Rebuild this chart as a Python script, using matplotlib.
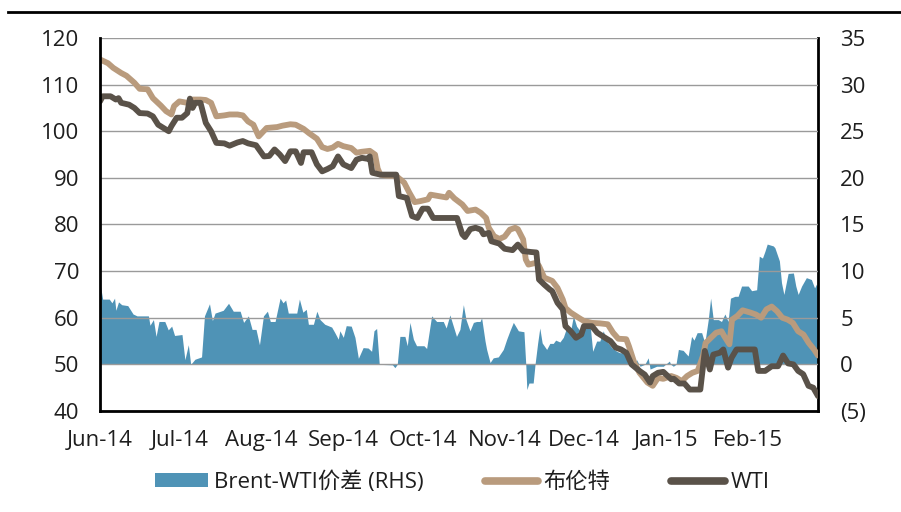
import matplotlib
matplotlib.use("Agg")
import matplotlib.pyplot as plt
import matplotlib.dates as mdates
from matplotlib.patches import Patch
from matplotlib.lines import Line2D
import pandas as pd

plt.rcParams['font.family'] = ['Open Sans', 'Noto Sans CJK SC', 'DejaVu Sans']

# x positions are days counted from 1 Jun 2014
start = pd.Timestamp('2014-06-01')

brent_days = [0, 3, 5, 8, 10, 13, 15, 18, 20, 23, 25, 27, 28, 30, 33, 35, 38, 40, 42, 44,
              47, 49, 52, 54, 56, 58, 60, 63, 67, 69, 72, 74, 77, 79, 82, 84, 86, 88, 90, 92,
              95, 97, 99, 102, 104, 105, 106, 108, 112, 115, 117, 119, 121, 124, 125, 128, 131, 132, 134, 137,
              139, 142, 144, 146, 147, 149, 151, 153, 155, 157, 158, 160, 161, 162, 165, 166, 168, 171, 173, 175,
              176, 178, 181, 183, 186, 189, 192, 194, 196, 199, 200, 202, 204, 207, 209, 211, 213, 216, 218, 220,
              222, 224, 226, 228, 229, 231, 233, 235, 236, 238, 239, 241, 243, 246, 248, 250, 252, 254, 256, 258,
              260, 262, 264, 266, 268, 270, 271.5]
brent = [115.4, 114.6, 113.6, 112.5, 111.9, 110.4, 109.1, 109.0, 107.1, 105.5, 104.3, 103.6, 105.4, 106.4, 106.1, 106.8, 106.8, 106.7, 106.1, 103.2,
         103.4, 103.6, 103.6, 103.4, 102.1, 101.4, 98.9, 100.7, 100.9, 101.2, 101.5, 101.4, 100.5, 99.6, 98.4, 96.6, 96.2, 96.5, 97.3, 96.8,
         96.4, 95.4, 95.6, 95.8, 95.0, 92.0, 90.7, 90.5, 90.4, 89.0, 86.8, 84.8, 85.0, 85.4, 86.4, 86.1, 85.8, 86.8, 85.6, 84.3,
         82.9, 83.2, 82.5, 81.4, 79.3, 77.5, 76.9, 77.4, 78.9, 79.3, 79.0, 76.8, 72.5, 71.4, 71.8, 71.1, 68.6, 67.9, 66.4, 63.9,
         62.1, 61.1, 60.0, 59.3, 58.9, 58.8, 58.6, 56.8, 55.5, 55.4, 53.9, 50.4, 48.2, 46.1, 45.4, 47.1, 46.9, 47.5, 47.1, 46.4,
         47.5, 48.2, 48.6, 51.8, 54.6, 55.7, 56.8, 57.1, 56.1, 54.3, 59.6, 60.4, 61.6, 61.1, 60.7, 60.0, 61.8, 62.4, 61.4, 60.0,
         59.6, 58.9, 57.1, 56.4, 54.6, 53.2, 51.9]

wti_days = [0, 1, 4, 6, 7, 8, 11, 13, 15, 18, 20, 22, 24, 26, 27, 29, 31, 33, 34, 35,
            36, 38, 40, 42, 44, 47, 49, 52, 54, 56, 59, 62, 64, 66, 68, 70, 72, 74, 76, 77,
            80, 82, 84, 86, 88, 90, 92, 95, 97, 99, 101, 102, 103, 106, 112, 113, 116, 118, 120, 122,
            124, 126, 135, 137, 138, 140, 142, 144, 145, 147, 148, 151, 153, 156, 158, 160, 163, 165, 166, 168,
            170, 171, 173, 175, 176, 178, 180, 182, 183, 186, 188, 191, 193, 195, 197, 199, 201, 204, 206, 208,
            209, 211, 213, 216, 217, 219, 221, 223, 227, 228.7, 230.6, 231.9, 234.4, 235.7, 237.5, 238.8, 240.7, 247.6, 248.9, 251.5,
            254, 256.4, 258.3, 260.2, 262.2, 264, 265.9, 267.9, 269.7, 271.5]
wti = [106.4, 107.5, 107.5, 106.8, 107.1, 106.1, 105.7, 105.0, 103.9, 103.8, 103.2, 101.4, 100.7, 100.0, 101.1, 102.9, 102.9, 103.9, 107.0, 105.0,
       106.1, 106.1, 101.8, 100.0, 97.5, 97.4, 96.9, 97.6, 97.9, 97.4, 97.0, 94.6, 94.7, 96.1, 95.0, 93.6, 95.7, 95.7, 93.2, 95.5,
       95.5, 92.9, 91.4, 91.9, 92.5, 94.6, 92.9, 92.1, 93.9, 94.3, 94.1, 94.6, 91.1, 90.7, 90.7, 86.1, 85.7, 81.8, 81.4, 83.4,
       83.4, 81.4, 81.4, 77.9, 77.3, 79.0, 79.3, 78.9, 77.9, 78.2, 76.4, 75.9, 74.8, 74.5, 75.7, 74.3, 74.1, 74.0, 68.2, 67.1,
       66.1, 65.7, 63.2, 61.8, 58.2, 57.1, 55.7, 56.4, 58.2, 58.2, 56.8, 55.7, 55.0, 53.6, 53.2, 52.5, 50.0, 48.6, 47.8, 46.1,
       47.5, 48.2, 48.4, 46.8, 46.9, 45.9, 45.9, 44.6, 44.6, 52.9, 48.9, 52.1, 52.5, 53.2, 49.3, 51.4, 53.2, 53.2, 48.6, 48.6,
       49.6, 49.6, 51.9, 50.2, 50.0, 48.6, 47.9, 45.4, 45.0, 43.2]

spread_days = [0, 1, 3.5, 4.5, 5.5, 6, 7, 8.2, 10.5, 12.5, 14, 18.3, 18.9, 20.2, 21.2, 22.3, 24.5, 25.8, 27.1, 28.2,
               31, 32.1, 33.4, 34.3, 35.9, 38.4, 39.5, 41.4, 42.5, 43.5, 46.6, 48.6, 50.4, 53, 54.3, 56.1, 57.5, 59, 60.3, 61.8,
               63.3, 64.4, 66.2, 68.1, 69.2, 70.2, 71.2, 74.4, 75.4, 76.7, 78, 78.8, 80.7, 82, 83.2, 85, 87.6, 88.8, 90.1, 90.7,
               92, 93.1, 95, 96.4, 97.7, 99.5, 101.4, 102.7, 103.6, 104.6, 105.6, 110.6, 111.5, 112.4, 113.4, 115.3, 116.2, 117.2, 118.5, 119.7,
               122.5, 123.5, 125.4, 127.3, 129.8, 130.9, 132.3, 133.6, 134.8, 136.1, 137.4, 138.4, 139.9, 141.2, 142.4, 143.7, 144.3, 145.6, 146.2, 147.5,
               148.7, 150.6, 152.5, 153.8, 155, 156.3, 158.2, 160.3, 161, 161.4, 162.2, 163.8, 164.5, 165.5, 166.3, 167.2, 168.9, 170.1, 171.4, 172.3,
               173.9, 175.2, 176.4, 177.7, 179, 180.2, 181.5, 182.8, 184, 185.3, 186.3, 187.8, 189, 190.3, 191.6, 193.5, 195.4, 196.6, 198.5, 199.8,
               201.6, 202.9, 204.2, 206, 207.3, 208, 210.5, 213, 215.3, 215.8, 216.8, 217.8, 218.7, 220.5, 222.4, 223.7, 224.6, 225.8, 227.5, 228.7,
               230, 230.9, 231.9, 233.8, 235, 236.3, 237.5, 238.4, 240.1, 241.3, 242.6, 245.1, 246.4, 248.3, 249.3, 250.5, 251.4, 252.3, 254.6, 255.2,
               256.9, 257.7, 258.6, 260.2, 262.2, 263.1, 264, 265.3, 267.1, 269, 270.2, 270.9, 271.5]
spread = [8.7, 7.0, 7.0, 6.6, 7.1, 5.8, 6.7, 6.4, 6.3, 5.4, 5.2, 5.2, 4.2, 4.8, 3.0, 4.6, 4.6, 3.7, 4.1, 3.1,
          3.2, 0.5, 2.1, 0.0, 0.55, 0.8, 5.2, 6.5, 4.7, 5.5, 5.8, 6.55, 5.7, 5.7, 4.5, 5.2, 3.75, 3.75, 2.1, 5.2,
          5.7, 4.6, 4.6, 7.1, 6.6, 6.9, 5.5, 5.5, 7.0, 5.6, 5.9, 4.3, 4.3, 5.7, 4.8, 4.3, 4.0, 3.4, 2.7, 3.6,
          2.9, 4.15, 4.1, 2.9, 0.65, 1.8, 1.75, 1.4, 3.6, 3.85, 0.0, -0.05, -0.35, 0.0, 3.0, 3.0, 2.0, 4.5, 2.7, 2.0,
          2.0, 1.7, 5.2, 4.6, 4.6, 3.9, 5.3, 4.1, 3.0, 3.75, 6.4, 4.8, 3.6, 4.5, 4.6, 4.6, 5.0, 2.5, 1.6, 0.2,
          0.7, 0.8, 1.6, 2.7, 3.6, 4.5, 3.6, 3.5, 0.0, -2.7, -2.0, -2.0, 0.0, 2.3, 3.9, 2.3, 1.6, 2.25, 2.25, 2.6,
          2.4, 2.9, 3.9, 3.2, 5.2, 4.1, 3.6, 3.6, 4.6, 4.3, 1.4, 2.5, 2.5, 3.6, 2.5, 1.8, 1.4, 1.25, 1.25, 0.7,
          0.0, 0.5, -0.2, 0.0, 0.7, -0.5, -0.2, -0.2, 0.35, 0.0, -0.2, 0.0, 1.6, 1.5, 0.9, 3.0, 2.6, 3.4, 3.4, 2.3,
          4.8, 7.1, 4.8, 4.8, 4.6, 5.4, 4.6, 7.1, 7.3, 7.3, 8.4, 8.4, 7.9, 8.0, 11.6, 11.4, 12.1, 12.9, 12.7, 12.5,
          11.1, 8.75, 7.5, 9.75, 9.8, 8.4, 7.5, 8.4, 9.3, 9.1, 8.2, 8.6, 8.2]

left_ticks = [40, 50, 60, 70, 80, 90, 100, 110, 120]
right_ticks = [-5, 0, 5, 10, 15, 20, 25, 30, 35]
right_labels = ['(5)', '0', '5', '10', '15', '20', '25', '30', '35']

BLUE = '#4f93b6'
TAN = '#b99b7d'
DARK = '#5a5249'
TXT = '#1e1e1e'
FS = 16


def to_dates(days):
    return start + pd.to_timedelta(days, unit='D')


fig = plt.figure(figsize=(9.01, 5.12), dpi=100)
ax = fig.add_axes([100 / 901, 1 - 411 / 512, 718 / 901, 373 / 512])
ax2 = ax.twinx()

ax2.fill_between(to_dates(spread_days), spread, 0, color=BLUE, lw=0)
ax.set_zorder(ax2.get_zorder() + 1)
ax.patch.set_visible(False)

ax.plot(to_dates(brent_days), brent, color=TAN, lw=4.2, solid_joinstyle='round', solid_capstyle='round')
ax.plot(to_dates(wti_days), wti, color=DARK, lw=4.2, solid_joinstyle='round', solid_capstyle='round')

ax.set_xlim(start, start + pd.Timedelta(days=271.5))
ax.set_ylim(40, 120)
ax.set_yticks(left_ticks)
ax2.set_ylim(-5, 35)
ax2.set_yticks(right_ticks)
ax2.set_yticklabels(right_labels)

ax.xaxis.set_major_locator(mdates.MonthLocator())
ax.xaxis.set_major_formatter(mdates.DateFormatter('%b-%y'))

ax.set_axisbelow(True)
ax.yaxis.grid(True, color='#9a9a9a', lw=1)

for a in (ax, ax2):
    a.spines['top'].set_visible(False)
ax.spines['right'].set_visible(False)
ax2.spines['left'].set_visible(False)
ax2.spines['bottom'].set_visible(False)
ax.spines['left'].set_linewidth(2)
ax.spines['bottom'].set_linewidth(2)
ax2.spines['right'].set_linewidth(2)

ax.tick_params(axis='y', length=0, pad=15, labelsize=FS, labelcolor=TXT)
ax.tick_params(axis='x', length=0, pad=14, labelsize=FS, labelcolor=TXT)
ax2.tick_params(axis='y', length=0, pad=16, labelsize=FS, labelcolor=TXT)

handles = [Patch(facecolor=BLUE, edgecolor='none'),
           Line2D([], [], color=TAN, lw=5.5, solid_capstyle='round'),
           Line2D([], [], color=DARK, lw=5.5, solid_capstyle='round')]
labels = ['Brent-WTI价差 (RHS)', '布伦特', 'WTI']
fig.legend(handles, labels, loc='center', bbox_to_anchor=(0.513, 0.058), ncol=3,
           frameon=False, fontsize=FS, handlelength=2.4, handleheight=0.55,
           handletextpad=0.25, columnspacing=2.75, labelcolor=TXT)

# header rule
fig.add_artist(Line2D([8 / 901, 0.999], [1 - 11.8 / 512] * 2, transform=fig.transFigure,
                      color='black', lw=2))

fig.savefig('out.png', dpi=100)
